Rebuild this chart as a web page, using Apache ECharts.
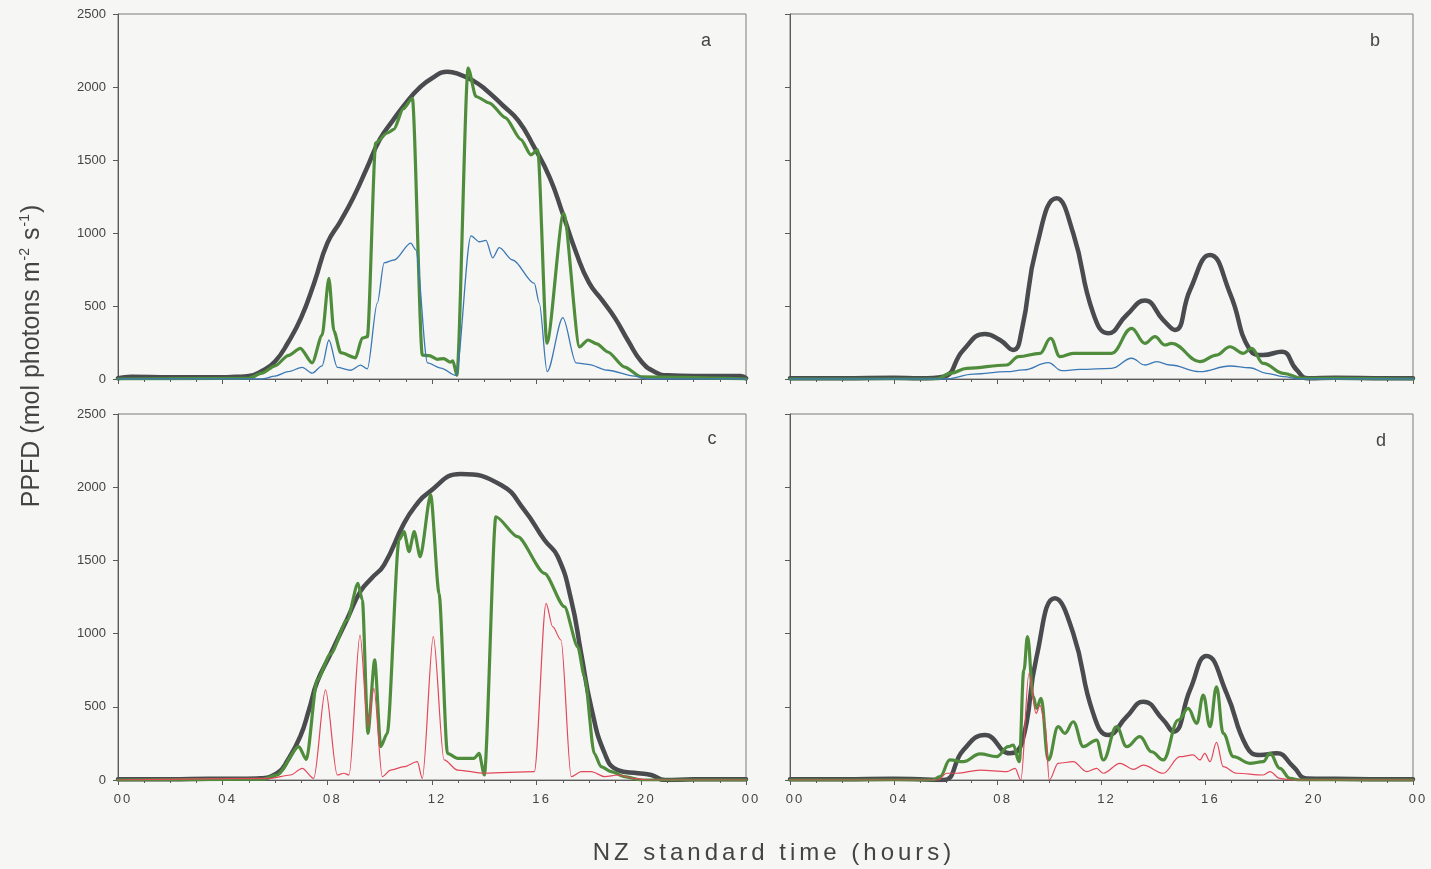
<!DOCTYPE html>
<html>
<head>
<meta charset="utf-8">
<script src="https://cdn.jsdelivr.net/npm/echarts@6/dist/echarts.min.js"></script>
<style>
html,body{margin:0;padding:0;background:#f6f6f4;}
#chart{width:1431px;height:869px;}
</style>
</head>
<body>
<div id="chart"></div>
<script>
// ---- tick labels ----
const xTickLabels = ['00','04','08','12','16','20','00'];
const yTickLabels = ['0','500','1000','1500','2000','2500'];
const panelLetters = ['a','b','c','d'];

// ---- Panel a ----
const aSunT = [0,0.5,2,4,4.5,5,5.5,6,6.5,7,7.5,8,8.5,9,9.5,10,10.5,11,11.5,12,12.6,13,13.6,14,14.7,15.3,15.9,16.5,17,17.5,18,18.5,19,19.5,20,20.5,21,22,23,23.8,24];
const aSunV = [5,15,12,12,15,20,55,120,250,420,660,930,1080,1245,1440,1640,1770,1890,1990,2060,2105,2090,2040,1990,1875,1770,1590,1380,1130,870,660,540,415,260,120,50,25,20,20,20,5];
const aGreenT = [0,5,5.5,6,6.5,6.97,7.42,7.8,8.06,8.25,8.51,9.08,9.33,9.53,9.85,10.29,10.54,10.9,11.25,11.63,11.9,12.2,12.45,12.7,12.8,12.95,13.38,13.68,14.2,14.8,15.4,15.78,16.04,16.39,17.03,17.64,17.96,18.3,18.72,19.36,20,24];
const aGreenV = [0,5,40,90,160,210,110,300,690,330,180,145,280,290,1617,1685,1710,1850,1923,164,160,135,140,115,125,25,2130,1935,1890,1790,1640,1535,1570,245,1135,220,267,240,185,82,14,0];
const aBlueT = [0,5.5,6,6.5,7.04,7.42,7.8,8.06,8.38,8.89,9.27,9.53,9.91,10.17,10.55,11.19,11.38,11.83,12.34,12.91,13.49,13.81,14.06,14.32,14.57,15.08,15.91,16.1,16.4,17.0,17.51,17.96,18.72,19.74,20.2,24];
const aBlueV = [0,0,20,50,80,40,90,267,80,60,95,70,520,795,815,930,885,110,75,25,980,940,950,830,900,815,655,520,50,420,110,100,60,20,0,0];

// ---- Panel b ----
const bSunT = [0,2,4,5,5.91,6.68,7.51,8.09,8.6,8.93,9.5,10.27,10.91,11.68,12.26,12.97,13.67,14.38,14.83,15.41,16.18,16.95,17.72,18.23,18.94,19.52,19.96,21,23,24];
const bSunV = [5,5,8,5,16,199,308,267,199,336,906,1238,998,450,313,438,537,404,336,610,849,587,199,164,187,62,5,8,5,5];
const bGreenT = [0,5.65,6.2,6.81,8.35,8.8,9.63,10.04,10.4,10.91,11.43,12.39,13.16,13.67,14.06,14.44,14.7,15.79,16.43,16.95,17.46,17.78,18.23,19.0,19.71,24];
const bGreenV = [0,0,40,73,96,153,176,279,153,176,176,176,347,244,290,233,244,119,164,221,176,210,107,39,5,0];
const bBlueT = [0,6.0,7.06,8.35,8.99,9.95,10.47,11.17,12.39,13.16,13.67,14.13,14.64,15.79,16.95,17.72,18.36,19.0,19.65,24];
const bBlueV = [0,0,34,50,62,112,57,66,73,142,96,119,96,50,89,77,39,16,0,0];

// ---- Panel c ----
const cSunT = [0,2,3.5,4.5,5.31,6.08,6.5,6.97,7.3,7.61,8.12,8.76,9.27,9.7,10.17,10.93,11.4,11.83,13.1,14.64,15.53,16.3,16.81,17.32,17.7,18.08,18.6,19.1,19.87,20.38,20.9,22,24];
const cSunV = [5,5,8,8,11,46,140,300,480,670,860,1100,1290,1380,1470,1753,1880,1958,2090,2015,1844,1639,1525,1229,865,501,182,68,46,34,0,5,5];
const cGreenT = [0,5.5,6.08,6.91,7.2,7.61,8.12,8.76,9.17,9.34,9.55,9.81,10.04,10.29,10.74,10.93,11.12,11.32,11.55,11.95,12.27,12.59,12.98,13.61,13.8,14.0,14.44,15.27,16.3,17.06,17.57,17.83,18.2,18.46,18.85,19.36,20,24];
const cGreenV = [0,5,34,228,140,683,860,1093,1343,1229,319,820,228,319,1639,1696,1560,1696,1525,1947,1275,182,148,148,182,34,1798,1662,1412,1184,910,706,182,91,57,23,0,0];
const cRedT = [0,5.82,6.59,7.04,7.48,7.93,8.38,8.63,8.83,9.25,9.55,9.78,10.1,10.42,10.93,11.44,11.63,12.05,12.46,12.98,14.0,15.91,16.36,16.61,16.93,17.32,17.7,18.08,18.6,19.1,19.74,20.2,24];
const cRedV = [0,11,34,80,11,615,34,46,34,990,364,626,23,68,91,125,11,979,137,68,46,57,1207,1047,956,23,57,57,23,34,11,0,0];

// ---- Panel d ----
const dSunT = [0,2,4,5,5.91,6.68,7.51,8.47,8.93,9.5,10.21,10.91,11.68,12.26,12.97,13.61,14.38,14.77,15.41,16.05,16.82,17.59,18.1,18.75,19.39,19.9,21,23,24];
const dSunV = [5,5,8,5,0,205,307,182,250,842,1241,1002,455,307,433,535,410,330,615,847,592,228,171,182,91,11,8,5,5];
const dGreenT = [0,5.5,5.78,6.16,6.68,7.32,7.96,8.41,8.6,8.83,9.01,9.15,9.37,9.5,9.67,9.95,10.33,10.59,10.91,11.3,11.81,12.07,12.58,12.97,13.48,13.93,14.38,14.96,15.34,15.67,15.92,16.18,16.43,16.69,17.08,17.72,18.23,18.49,18.87,19.26,19.65,24];
const dGreenV = [0,0,23,137,125,178,159,228,239,125,751,979,569,489,558,137,364,319,398,228,273,137,364,228,296,193,137,410,489,387,580,364,637,319,159,114,125,182,80,11,0,0];
const dRedT = [0,5.7,6.04,6.42,7.32,8.35,8.67,8.89,9.21,9.48,9.63,9.82,9.99,10.33,10.91,11.43,11.81,12.07,12.71,13.23,13.61,14.38,15.02,15.53,15.79,15.98,16.18,16.43,16.69,17.21,18.23,18.49,18.87,19.26,24];
const dRedV = [0,0,46,46,68,57,80,0,729,455,512,387,0,114,125,57,80,46,114,73,102,46,159,171,137,182,125,257,91,46,34,57,11,0,0];

// ---- build ----
const zip = (t, v) => t.map((x, i) => [x, v[i]]);
const FONT = "'Liberation Sans', Arial, sans-serif";
const AX = '#5a5a5a';
const COL = { sun: '#4a4b4f', green: '#4f8d3d', blue: '#3b78b6', red: '#e2475a' };
const SP = '\u2006';
const spaced = s => s.split('').join(SP);

const grids = [
  { left: 118, top: 14, width: 628, height: 365 },
  { left: 790, top: 14, width: 623, height: 365 },
  { left: 118, top: 414, width: 628, height: 366 },
  { left: 790, top: 414, width: 623, height: 366 }
].map(g => Object.assign(g, { show: true, borderColor: '#7a7a7a', borderWidth: 1, backgroundColor: 'transparent' }));

const xAxes = grids.map((g, i) => ({
  type: 'value', gridIndex: i, min: 0, max: 24, interval: 4,
  axisLine: { show: true, lineStyle: { color: AX, width: 1 } },
  axisTick: { show: true, length: 5, lineStyle: { color: AX } },
  minorTick: { show: true, splitNumber: 4, length: 3, lineStyle: { color: AX } },
  splitLine: { show: false },
  axisLabel: { show: i >= 2, margin: 13, fontSize: 13, color: '#444', fontFamily: FONT, padding: [0, 0, 0, 8],
    formatter: v => spaced(xTickLabels[Math.round(v / 4)]) }
}));
const yAxes = grids.map((g, i) => ({
  type: 'value', gridIndex: i, min: 0, max: 2500, interval: 500,
  axisLine: { show: true, lineStyle: { color: AX, width: 1 } },
  axisTick: { show: true, length: 5, lineStyle: { color: AX } },
  splitLine: { show: false },
  axisLabel: { show: i % 2 === 0, margin: 12, fontSize: 13, color: '#444', fontFamily: FONT,
    formatter: v => yTickLabels[Math.round(v / 500)] }
}));

function line(idx, data, color, width, smooth, z, mono) {
  const s = { type: 'line', xAxisIndex: idx, yAxisIndex: idx, data, showSymbol: false, symbol: 'none',
    smooth, lineStyle: { color, width, cap: 'round', join: 'round' }, z, animation: false, clip: true };
  if (mono) s.smoothMonotone = 'x';
  return s;
}

const series = [
  line(0, zip(aSunT, aSunV), COL.sun, 4.5, 0.5, 2, false),
  line(0, zip(aGreenT, aGreenV), COL.green, 3.2, 0.25, 3, true),
  line(0, zip(aBlueT, aBlueV), COL.blue, 1.3, 0.3, 4, true),
  line(1, zip(bSunT, bSunV), COL.sun, 4.5, 0.5, 2, false),
  line(1, zip(bGreenT, bGreenV), COL.green, 3.2, 0.4, 3, true),
  line(1, zip(bBlueT, bBlueV), COL.blue, 1.3, 0.4, 4, true),
  line(2, zip(cSunT, cSunV), COL.sun, 4.5, 0.5, 2, false),
  line(2, zip(cGreenT, cGreenV), COL.green, 3.2, 0.25, 3, true),
  line(2, zip(cRedT, cRedV), COL.red, 1.2, 0.3, 4, true),
  line(3, zip(dSunT, dSunV), COL.sun, 4.5, 0.5, 2, false),
  line(3, zip(dGreenT, dGreenV), COL.green, 3.2, 0.4, 3, true),
  line(3, zip(dRedT, dRedV), COL.red, 1.2, 0.35, 4, true)
];

const letterPos = [[706, 41], [1375, 41], [712, 439], [1381, 441]];
const graphic = letterPos.map((p, i) => ({
  type: 'text', x: p[0], y: p[1], z: 10,
  style: { text: panelLetters[i], fontSize: 18, fill: '#444', fontFamily: FONT, align: 'center', verticalAlign: 'middle' }
}));
graphic.push({
  type: 'text', x: 772, y: 853, z: 10,
  style: { text: spaced('NZ standard time (hours)'), fontSize: 24, fill: '#444', fontFamily: FONT, align: 'center', verticalAlign: 'middle' }
});
graphic.push({
  type: 'text', x: 32, y: 356, rotation: Math.PI / 2, z: 10,
  style: {
    text: 'PPFD (mol photons m{sup|-2} s{sup|-1})',
    fontSize: 25, fill: '#444', fontFamily: FONT, align: 'center', verticalAlign: 'middle',
    rich: { sup: { fontSize: 14, fill: '#444', fontFamily: FONT, padding: [0, 1, 13, 1] } }
  }
});

const chart = echarts.init(document.getElementById('chart'), null, { renderer: 'canvas' });
chart.setOption({
  backgroundColor: '#f6f6f4',
  animation: false,
  grid: grids,
  xAxis: xAxes,
  yAxis: yAxes,
  series,
  graphic
});
</script>
</body>
</html>
